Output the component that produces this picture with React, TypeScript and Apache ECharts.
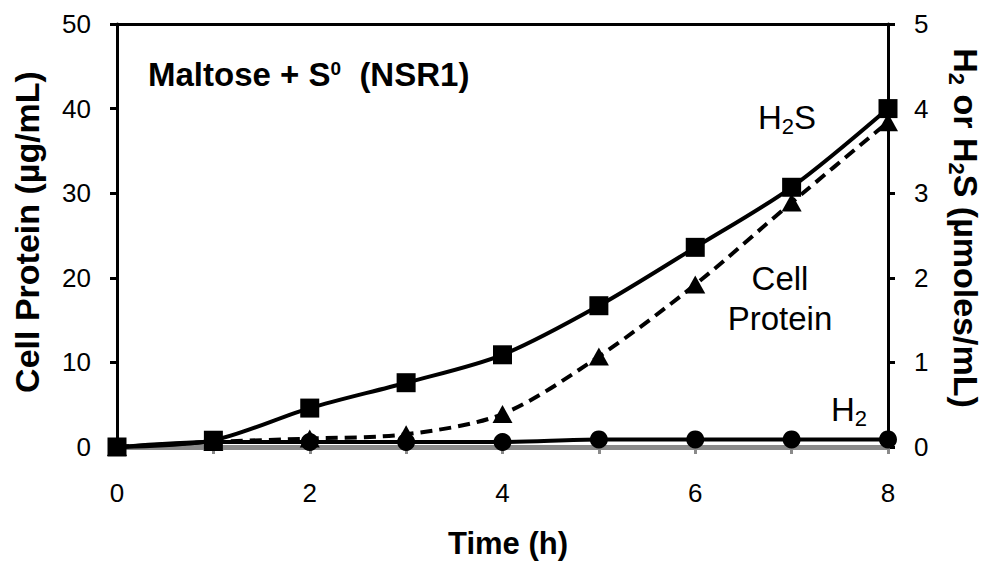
import React, { useEffect, useRef } from 'react';
import * as echarts from 'echarts';

// ---- data ----
const time = [0, 1, 2, 3, 4, 5, 6, 7, 8];
const h2s = [0, 0.08, 0.46, 0.76, 1.09, 1.67, 2.36, 3.07, 4.0]; // µmoles/mL (right axis)
const cellProtein = [0, 0.6, 1.0, 1.5, 3.9, 10.7, 19.2, 28.9, 38.4]; // µg/mL (left axis)
const h2 = [0, 0.06, 0.06, 0.06, 0.06, 0.09, 0.09, 0.09, 0.09]; // µmoles/mL (right axis)
const xTicks = { min: 0, max: 8, interval: 1 };
const leftTicks = { min: 0, max: 50, interval: 10 };
const rightTicks = { min: 0, max: 5, interval: 1 };

const FONT = '"Liberation Sans", Arial, Helvetica, sans-serif';

export default function App() {
  const ref = useRef<HTMLDivElement>(null);
  useEffect(() => {
    document.body.style.margin = '0';
    if (!ref.current) return;
    const chart = echarts.init(ref.current, undefined, { renderer: 'svg' });
    const pts = (ys: number[]) => time.map((t, i) => [t, ys[i]]);
    const axisLabel = { color: '#000', fontSize: 26, fontFamily: FONT, margin: 26 };
    const blackLine = { show: true, onZero: false, lineStyle: { color: '#000', width: 3 } };
    const blackTick = { show: true, length: 7, lineStyle: { color: '#000', width: 3 } };
    const subRich = (size: number, weight: string) => ({
      n: { fontSize: size, fontWeight: weight, fontFamily: FONT, fill: '#000', lineHeight: size + 8 },
      s: { fontSize: Math.round(size * 0.66), fontWeight: weight, fontFamily: FONT, fill: '#000', verticalAlign: 'bottom' },
    });
    chart.setOption({
      animation: false,
      backgroundColor: '#fff',
      grid: { left: 117, right: 102, top: 24, bottom: 115, containLabel: false },
      xAxis: [
        {
          type: 'value',
          ...xTicks,
          position: 'bottom',
          axisLine: { show: true, onZero: false, lineStyle: { color: '#8a8a8a', width: 5 } },
          axisTick: { show: true, length: 7, lineStyle: { color: '#8a8a8a', width: 3 } },
          axisLabel: { ...axisLabel, margin: 33, formatter: (v: number) => (v % 2 === 0 ? String(v) : '') },
          splitLine: { show: false },
        },
        {
          type: 'value',
          ...xTicks,
          position: 'top',
          axisLine: blackLine,
          axisTick: { show: false },
          axisLabel: { show: false },
          splitLine: { show: false },
        },
      ],
      yAxis: [
        {
          type: 'value',
          ...leftTicks,
          position: 'left',
          axisLine: blackLine,
          axisTick: blackTick,
          axisLabel,
          splitLine: { show: false },
        },
        {
          type: 'value',
          ...rightTicks,
          position: 'right',
          axisLine: blackLine,
          axisTick: blackTick,
          axisLabel,
          splitLine: { show: false },
        },
      ],
      series: [
        {
          name: 'H2',
          type: 'line',
          yAxisIndex: 1,
          data: pts(h2),
          smooth: 0.3,
          clip: false,
          symbol: 'circle',
          symbolSize: 18,
          lineStyle: { color: '#000', width: 4 },
          itemStyle: { color: '#000' },
        },
        {
          name: 'Cell Protein',
          type: 'line',
          yAxisIndex: 0,
          data: pts(cellProtein),
          smooth: 0.3,
          clip: false,
          symbol: 'triangle',
          symbolSize: [20, 18],
          lineStyle: { color: '#000', width: 4, type: [12, 7] },
          itemStyle: { color: '#000' },
        },
        {
          name: 'H2S',
          type: 'line',
          yAxisIndex: 1,
          data: pts(h2s),
          smooth: 0.3,
          clip: false,
          symbol: 'rect',
          symbolSize: 19,
          lineStyle: { color: '#000', width: 4 },
          itemStyle: { color: '#000' },
        },
      ],
      graphic: [
        {
          type: 'text',
          x: 148,
          y: 74,
          style: {
            text: '{n|Maltose + S}{p|0}{n|  (NSR1)}',
            align: 'left',
            verticalAlign: 'middle',
            rich: {
              n: { fontSize: 33, fontWeight: 'bold', fontFamily: FONT, fill: '#000', lineHeight: 30 },
              p: { fontSize: 19, fontWeight: 'bold', fontFamily: FONT, fill: '#000', verticalAlign: 'top' },
            },
          },
        },
        {
          type: 'text',
          x: 787,
          y: 117,
          style: {
            text: '{n|H}{s|2}{n|S}',
            align: 'center',
            verticalAlign: 'middle',
            rich: subRich(33, 'normal'),
          },
        },
        {
          type: 'text',
          x: 780,
          y: 298,
          style: {
            text: 'Cell\nProtein',
            align: 'center',
            verticalAlign: 'middle',
            fontSize: 33,
            lineHeight: 40,
            fontFamily: FONT,
            fill: '#000',
          },
        },
        {
          type: 'text',
          x: 849,
          y: 409,
          style: {
            text: '{n|H}{s|2}',
            align: 'center',
            verticalAlign: 'middle',
            rich: subRich(33, 'normal'),
          },
        },
        {
          type: 'text',
          x: 508,
          y: 543,
          style: {
            text: 'Time (h)',
            align: 'center',
            verticalAlign: 'middle',
            fontSize: 31,
            fontWeight: 'bold',
            fontFamily: FONT,
            fill: '#000',
          },
        },
        {
          type: 'text',
          x: 27,
          y: 232,
          rotation: Math.PI / 2,
          style: {
            text: 'Cell Protein (µg/mL)',
            align: 'center',
            verticalAlign: 'middle',
            fontSize: 34,
            fontWeight: 'bold',
            fontFamily: FONT,
            fill: '#000',
          },
        },
        {
          type: 'text',
          x: 966,
          y: 228,
          rotation: -Math.PI / 2,
          style: {
            text: '{n|H}{s|2}{n| or H}{s|2}{n|S (µmoles/mL)}',
            align: 'center',
            verticalAlign: 'middle',
            rich: subRich(34, 'bold'),
          },
        },
      ],
    });
    return () => chart.dispose();
  }, []);
  return <div ref={ref} style={{ width: 990, height: 562 }} />;
}
